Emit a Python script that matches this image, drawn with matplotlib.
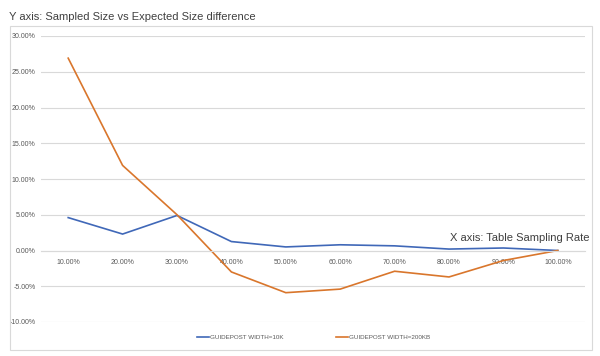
import matplotlib
matplotlib.use("Agg")
import matplotlib.pyplot as plt
from matplotlib.patches import Rectangle
from matplotlib.lines import Line2D

plt.rcParams["font.family"] = ["Liberation Sans", "DejaVu Sans"]

categories = ["10.00%", "20.00%", "30.00%", "40.00%", "50.00%",
              "60.00%", "70.00%", "80.00%", "90.00%", "100.00%"]
series_10k = [4.6, 2.3, 4.9, 1.25, 0.5, 0.8, 0.65, 0.2, 0.35, 0.0]
series_200kb = [26.9, 11.9, 5.0, -3.0, -5.9, -5.4, -2.9, -3.7, -1.4, 0.0]
series_names = ["GUIDEPOST WIDTH=10K", "GUIDEPOST WIDTH=200KB"]
y_ticks = [-10, -5, 0, 5, 10, 15, 20, 25, 30]

blue = "#4068B8"
orange = "#D9762C"
grid_c = "#D9D9D9"
label_c = "#595959"

fig = plt.figure(figsize=(6.0, 3.56), dpi=100)
fig.patch.set_facecolor("white")

# chart box
fig.patches.append(Rectangle((10 / 600, 1 - 350 / 356), 582 / 600, 324 / 356,
                             transform=fig.transFigure, fill=False,
                             edgecolor=grid_c, linewidth=0.8))

ax = fig.add_axes([41 / 600, 1 - 322 / 356, 544 / 600, 286 / 356])
for s in ["top", "right", "left"]:
    ax.spines[s].set_visible(False)
ax.spines["bottom"].set_position(("data", 0))
ax.spines["bottom"].set_color(grid_c)
ax.spines["bottom"].set_linewidth(0.8)

x = list(range(len(categories)))
ax.plot(x, series_10k, color=blue, linewidth=1.2, solid_joinstyle="miter")
ax.plot(x, series_200kb, color=orange, linewidth=1.2, solid_joinstyle="miter")

ax.set_xlim(-0.5, len(categories) - 0.5)
ax.set_ylim(-10, 30)
ax.set_yticks(y_ticks)
ax.set_yticklabels([f"{v:.2f}%" for v in y_ticks])
ax.set_xticks(x)
ax.set_xticklabels(categories)
ax.tick_params(axis="both", length=0, labelsize=5, labelcolor=label_c)
ax.tick_params(axis="x", pad=6)
ax.tick_params(axis="y", pad=4)
ax.grid(axis="y", color=grid_c, linewidth=0.8)
ax.set_axisbelow(True)

fig.text(9 / 600, 1 - 16.7 / 356, "Y axis: Sampled Size vs Expected Size difference",
         fontsize=8, color="#404040", va="center", ha="left")
fig.text(589 / 600, 1 - 238 / 356, "X axis: Table Sampling Rate",
         fontsize=8, color="#404040", va="center", ha="right")

handles = [Line2D([], [], color=blue, linewidth=1.2),
           Line2D([], [], color=orange, linewidth=1.2)]
fig.legend(handles, series_names, loc="center", bbox_to_anchor=(313.5 / 600, 1 - 337.5 / 356),
           ncol=2, frameon=False, fontsize=4.5, labelcolor=label_c,
           handlelength=2.0, handletextpad=0.2, columnspacing=8.3,
           borderpad=0, borderaxespad=0)

fig.savefig("out.png", dpi=100)
